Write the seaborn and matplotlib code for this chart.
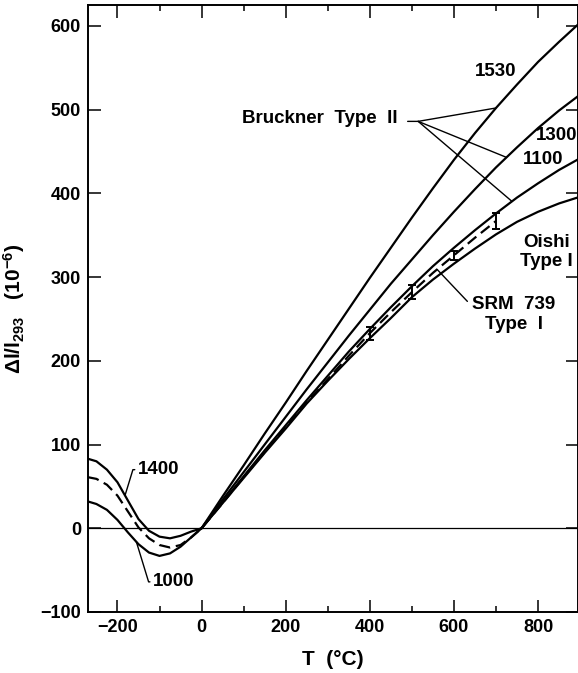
import numpy as np
import pandas as pd
import matplotlib
matplotlib.use("Agg")
import matplotlib.pyplot as plt
from matplotlib.ticker import MultipleLocator
import seaborn as sns

# ---------------- data ----------------
T_hi = [0, 50, 100, 150, 200, 250, 300, 350, 400, 450, 500, 550, 600, 650, 700, 750, 800, 850, 900]
bruckner_1530 = [0, 38, 75, 113, 150, 188, 225, 262, 299, 335, 371, 406, 440, 472, 502, 530, 557, 581, 604]
bruckner_1300 = [0, 34, 67, 100, 133, 166, 198, 230, 261, 292, 321, 350, 378, 405, 431, 455, 478, 499, 518]
bruckner_1100 = [0, 31, 62, 93, 123, 153, 182, 211, 238, 264, 289, 313, 335, 356, 376, 395, 412, 428, 442]
oishi_type1 = [0, 30, 60, 90, 119, 149, 176, 202, 227, 251, 276, 297, 316, 334, 351, 366, 378, 388, 396]

T_lo = [-270, -250, -225, -200, -175, -150, -125, -100, -75, -50, -25, 0]
low_1400 = [83, 80, 70, 55, 33, 11, -3, -10, -12, -9, -4, 0]
low_1000 = [32, 29, 22, 10, -5, -19, -29, -33, -30, -22, -11, 0]

T_srm = [-270, -250, -225, -200, -175, -150, -125, -100, -75, -50, -25, 0,
         50, 100, 150, 200, 250, 300, 350, 400, 450, 500, 550, 600, 650, 700]
srm_739 = [61, 59, 52, 39, 20, 1, -12, -20, -23, -20, -11, 0,
           30, 61, 91, 121, 150, 178, 206, 233, 258, 282, 305, 326, 347, 367]

T_err = [400, 500, 600, 700]
srm_err_center = [233, 282, 326, 367]
srm_err_half = [8, 8, 5, 10]

x_major_ticks = [-200, 0, 200, 400, 600, 800]
y_major_ticks = [-100, 0, 100, 200, 300, 400, 500, 600]

# ---------------- style ----------------
sns.set_theme(style="white")
plt.rcParams["font.family"] = ["Liberation Sans", "DejaVu Sans"]
plt.rcParams["font.weight"] = "bold"
plt.rcParams["axes.labelweight"] = "bold"
plt.rcParams["text.color"] = "black"
plt.rcParams["axes.labelcolor"] = "black"
plt.rcParams["xtick.color"] = "black"
plt.rcParams["ytick.color"] = "black"
plt.rcParams["mathtext.fontset"] = "custom"
plt.rcParams["mathtext.rm"] = "Liberation Sans:bold"
plt.rcParams["mathtext.it"] = "Liberation Sans:bold"
plt.rcParams["mathtext.bf"] = "Liberation Sans:bold"
plt.rcParams["mathtext.default"] = "rm"

fig = plt.figure(figsize=(5.78, 6.73), dpi=100)
ax = fig.add_axes([88 / 578, 61 / 673, 490 / 578, 607 / 673])

LW = 1.6
for vals in (bruckner_1530, bruckner_1300, bruckner_1100, oishi_type1):
    sns.lineplot(x=T_hi, y=vals, ax=ax, color="black", lw=LW, sort=False,
                 estimator=None, legend=False)
for vals in (low_1400, low_1000):
    sns.lineplot(x=T_lo, y=vals, ax=ax, color="black", lw=LW, sort=False,
                 estimator=None, legend=False)
sns.lineplot(x=T_srm, y=srm_739, ax=ax, color="black", lw=LW, sort=False,
             estimator=None, legend=False)
ax.lines[-1].set_linestyle((0, (5, 2.6)))

ax.errorbar(T_err, srm_err_center, yerr=srm_err_half, fmt="none", ecolor="black",
            elinewidth=1.4, capsize=3.2, capthick=1.4)

ax.axhline(0, color="black", lw=0.9, zorder=1)

# ---------------- axes ----------------
ax.set_xlim(-270, 895)
ax.set_ylim(-100, 625)
ax.set_xticks(x_major_ticks)
ax.xaxis.set_minor_locator(MultipleLocator(100))
ax.set_yticks(y_major_ticks)
ax.tick_params(which="both", direction="in", top=True, right=True,
               bottom=True, left=True, labeltop=False, labelright=False,
               colors="black")
ax.tick_params(which="major", length=9, width=1.1, labelsize=13, pad=5)
ax.tick_params(which="minor", length=4.5, width=1.1)
for lab in ax.get_xticklabels() + ax.get_yticklabels():
    lab.set_fontweight("bold")
for s in ax.spines.values():
    s.set_linewidth(1.4)
    s.set_color("black")

ax.set_xlabel("T  (°C)", fontsize=15, fontweight="bold")
ax.xaxis.set_label_coords(0.5, -0.062)
ax.set_ylabel(r"$\Delta$l/l$_{293}$   (10$^{-6}$)", fontsize=15, fontweight="bold")
ax.yaxis.set_label_coords(-0.124, 0.5)

# ---------------- annotations ----------------
fs = 13.5
lead = dict(arrowstyle="-", color="black", lw=1.0, shrinkA=0, shrinkB=0)

ax.text(700, 545, "1530", fontsize=fs, fontweight="bold", ha="center", va="center")
ax.text(845, 469, "1300", fontsize=fs, fontweight="bold", ha="center", va="center")
ax.text(812, 440, "1100", fontsize=fs, fontweight="bold", ha="center", va="center")

ax.text(467, 490, "Bruckner  Type  II", fontsize=fs, fontweight="bold",
        ha="right", va="center")
ax.annotate("", xy=(515, 486), xytext=(490, 486), arrowprops=lead)
for tgt, curve in ((700, bruckner_1530), (725, bruckner_1300), (738, bruckner_1100)):
    ax.annotate("", xy=(tgt, np.interp(tgt, T_hi, curve)), xytext=(515, 486),
                arrowprops=lead)

ax.text(820, 330, "Oishi\nType I", fontsize=fs, fontweight="bold",
        ha="center", va="center", linespacing=1.2)

ax.text(743, 255, "SRM  739\nType  I", fontsize=fs, fontweight="bold",
        ha="center", va="center", linespacing=1.2)
ax.annotate("", xy=(560, np.interp(560, T_srm, srm_739)), xytext=(632, 271),
            arrowprops=lead)

ax.annotate("1400", xy=(-182, np.interp(-182, T_lo, low_1400)), xytext=(-151, 70),
            fontsize=fs, fontweight="bold", ha="left", va="center",
            arrowprops=dict(arrowstyle="-", color="black", lw=1.0, shrinkA=0, shrinkB=0,
                            relpos=(0, 0.5),
                            connectionstyle="angle,angleA=180,angleB=73,rad=0"))
ax.annotate("1000", xy=(-155, np.interp(-155, T_lo, low_1000)), xytext=(-115, -64),
            fontsize=fs, fontweight="bold", ha="left", va="center",
            arrowprops=dict(arrowstyle="-", color="black", lw=1.0, shrinkA=0, shrinkB=0,
                            relpos=(0, 0.5),
                            connectionstyle="angle,angleA=180,angleB=107,rad=0"))

fig.savefig("out.png", dpi=100)
